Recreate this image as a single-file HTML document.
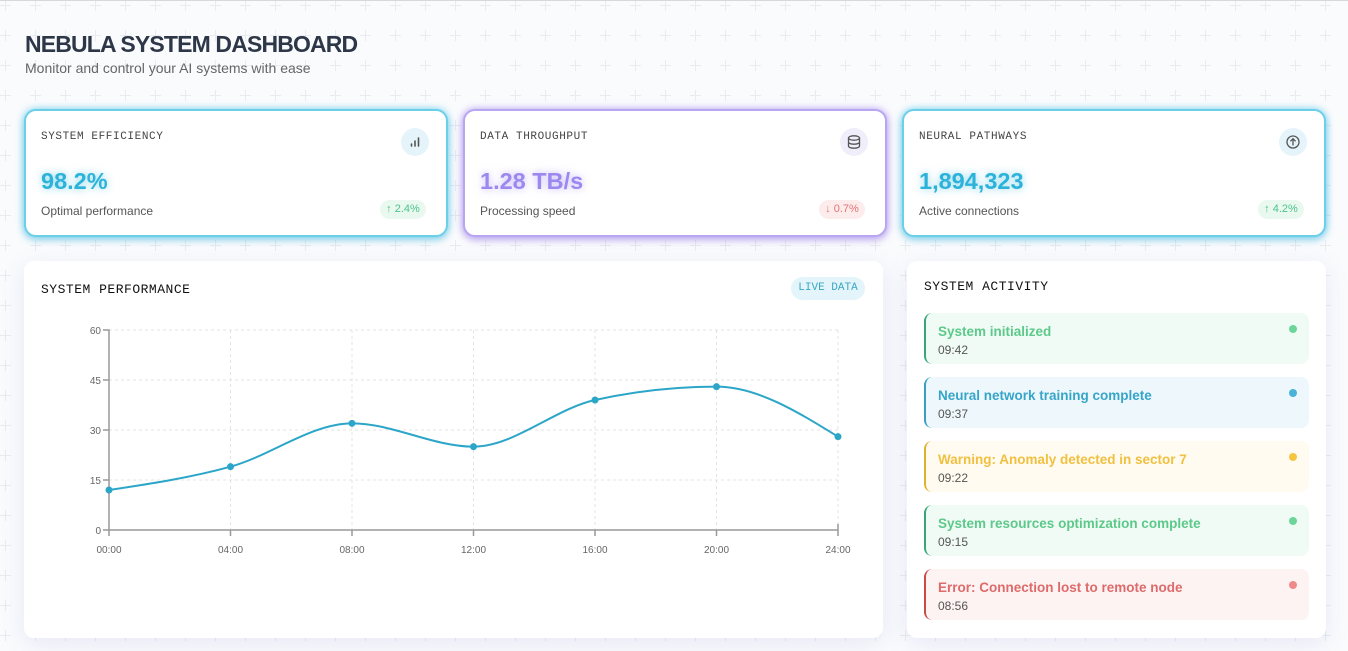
<!DOCTYPE html>
<html><head><meta charset="utf-8"><style>
*{margin:0;padding:0;box-sizing:border-box}
body{width:1348px;height:651px;overflow:hidden;background:#fafbfd;font-family:"Liberation Sans",sans-serif;position:relative}
.bg{position:absolute;left:0;top:0}
.topline{position:absolute;left:0;top:0;width:1348px;height:1px;background:#d8d8d8}
h1{position:absolute;left:25px;top:30px;font-size:23px;font-weight:bold;color:#2d3748;letter-spacing:-0.85px;line-height:28px;white-space:nowrap}
.sub{position:absolute;left:25px;top:60px;font-size:14px;color:#666;line-height:17px;white-space:nowrap}
.card{position:absolute;top:109px;width:424px;height:128px;background:#fff;border-radius:12px;border:2px solid #6ccfe8;box-shadow:0 0 8px rgba(80,200,235,.7),0 3px 8px rgba(60,170,210,.4)}
.card.p{border-color:#b9a6f2;box-shadow:0 0 8px rgba(160,130,240,.65),0 3px 8px rgba(140,110,220,.4)}
.lbl{position:absolute;left:15px;top:19px;font-family:"Liberation Mono",monospace;font-size:11px;letter-spacing:0.6px;color:#444;line-height:14px;white-space:nowrap}
.val{position:absolute;left:15px;top:56px;font-size:23.5px;font-weight:bold;color:#2bb3da;line-height:28px;text-shadow:0 0 8px rgba(43,179,218,.55);white-space:nowrap}
.p .val{color:#9d88f0;text-shadow:0 0 8px rgba(157,136,240,.6)}
.desc{position:absolute;left:15px;top:93px;font-size:12px;color:#555;line-height:15px;white-space:nowrap}
.badge{position:absolute;left:354px;top:89px;width:46px;height:19px;border-radius:10px;background:#e9f9ef;color:#4cc38a;font-size:11px;line-height:19px;text-align:center;white-space:nowrap}
.badge.r{background:#fdecec;color:#e57373}
.icon{position:absolute;left:375px;top:17px;width:28px;height:28px;border-radius:50%;background:#e4f4fa}
.p .icon{background:#efeefa}
.icon svg{position:absolute;left:0;top:0}
.panel{position:absolute;top:261px;height:377px;background:#fff;border-radius:10px;box-shadow:0 6px 24px rgba(110,110,190,.13)}
.ptitle{position:absolute;font-family:"Liberation Mono",monospace;font-size:13px;letter-spacing:0.5px;color:#111;line-height:16px;white-space:nowrap}
.live{position:absolute;left:767px;top:16px;width:74px;height:23px;border-radius:12px;background:#e3f5fa;color:#3aa8c4;font-family:"Liberation Mono",monospace;font-size:11px;line-height:23px;text-align:center}
.item{position:absolute;left:17px;width:385px;height:51px;border-radius:8px;border-left:2px solid #3aa57a;background:#f1fbf5}
.it{position:absolute;left:12px;top:11px;font-size:13.5px;font-weight:bold;line-height:16px;white-space:nowrap}
.tm{position:absolute;left:12px;top:30px;font-size:12px;color:#555;line-height:14px}
.dot{position:absolute;left:363px;top:12px;width:8px;height:8px;border-radius:50%}
</style></head><body>
<svg class="bg" width="1348" height="651">
<defs><pattern id="pl" x="0" y="0" width="30" height="30" patternUnits="userSpaceOnUse">
<path d="M0,5.5H11M5.5,0V11" stroke="#e9ebf0" stroke-width="1"/></pattern></defs>
<rect width="1348" height="651" fill="url(#pl)"/>
</svg>
<div class="topline"></div>
<h1>NEBULA SYSTEM DASHBOARD</h1>
<div class="sub">Monitor and control your AI systems with ease</div>

<div class="card" style="left:24px">
 <div class="lbl">SYSTEM EFFICIENCY</div>
 <div class="icon"><svg width="28" height="28"><path d="M10.5,18V16M14,18V13M17.5,18V10" stroke="#555" stroke-width="1.6" stroke-linecap="round"/></svg></div>
 <div class="val">98.2%</div>
 <div class="desc">Optimal performance</div>
 <div class="badge">↑ 2.4%</div>
</div>
<div class="card p" style="left:463px">
 <div class="lbl">DATA THROUGHPUT</div>
 <div class="icon"><svg width="28" height="28"><g fill="none" stroke="#555" stroke-width="1.3"><ellipse cx="14" cy="10" rx="5.5" ry="2.2"/><path d="M8.5,10V18C8.5,19.3 11,20.2 14,20.2C17,20.2 19.5,19.3 19.5,18V10M8.5,14C8.5,15.3 11,16.2 14,16.2C17,16.2 19.5,15.3 19.5,14"/></g></svg></div>
 <div class="val">1.28 TB/s</div>
 <div class="desc">Processing speed</div>
 <div class="badge r">↓ 0.7%</div>
</div>
<div class="card" style="left:902px">
 <div class="lbl">NEURAL PATHWAYS</div>
 <div class="icon"><svg width="28" height="28"><g fill="none" stroke="#555" stroke-width="1.3"><circle cx="14" cy="14" r="6"/><path d="M14,17.5V10.8M11.4,13.3L14,10.7L16.6,13.3"/></g></svg></div>
 <div class="val">1,894,323</div>
 <div class="desc">Active connections</div>
 <div class="badge">↑ 4.2%</div>
</div>

<div class="panel" style="left:24px;width:859px">
 <div class="ptitle" style="left:17px;top:21px">SYSTEM PERFORMANCE</div>
 <div class="live">LIVE DATA</div>
</div>
<div class="panel" style="left:907px;width:419px">
 <div class="ptitle" style="left:17px;top:18px">SYSTEM ACTIVITY</div>
 <div class="item" style="top:52px;border-left-color:#3aa57a;background:#f1fbf5"><div class="it" style="color:#5cc98a">System initialized</div><div class="tm">09:42</div><div class="dot" style="background:#6dd59a"></div></div>
 <div class="item" style="top:116px;border-left-color:#3a9ec4;background:#eef8fc"><div class="it" style="color:#36a5c8">Neural network training complete</div><div class="tm">09:37</div><div class="dot" style="background:#4bb3d8"></div></div>
 <div class="item" style="top:180px;border-left-color:#e0b030;background:#fffbf0"><div class="it" style="color:#f0c040">Warning: Anomaly detected in sector 7</div><div class="tm">09:22</div><div class="dot" style="background:#f5c542"></div></div>
 <div class="item" style="top:244px;border-left-color:#3aa57a;background:#f1fbf5"><div class="it" style="color:#5cc98a">System resources optimization complete</div><div class="tm">09:15</div><div class="dot" style="background:#6dd59a"></div></div>
 <div class="item" style="top:308px;border-left-color:#c94a4a;background:#fdf3f3"><div class="it" style="color:#de6b6b">Error: Connection lost to remote node</div><div class="tm">08:56</div><div class="dot" style="background:#ef8a8a"></div></div>
</div>

<svg style="position:absolute;left:0;top:0" width="1348" height="651">
<g stroke="#e3e3e3" stroke-width="1" stroke-dasharray="3,3" fill="none">
<path d="M109,330H838M109,380H838M109,430H838M109,480H838"/>
<path d="M230.5,330V530M352,330V530M473.5,330V530M595,330V530M716.5,330V530M838,330V530"/>
</g>
<g stroke="#999" stroke-width="1.5" fill="none">
<path d="M103,330H109V530H838"/>
<path d="M103,380H109M103,430H109M103,480H109M103,530H109"/>
<path d="M109,530V536M230.5,530V536M352,530V536M473.5,530V536M595,530V536M716.5,530V536M838,524V536"/>
</g>
<g font-family="Liberation Sans, sans-serif" font-size="10" fill="#666" text-anchor="end">
<text x="101" y="334">60</text><text x="101" y="384">45</text><text x="101" y="434">30</text><text x="101" y="484">15</text><text x="101" y="534">0</text>
</g>
<g font-family="Liberation Sans, sans-serif" font-size="10" fill="#666" text-anchor="middle">
<text x="109" y="553">00:00</text><text x="230.5" y="553">04:00</text><text x="352" y="553">08:00</text><text x="473.5" y="553">12:00</text><text x="595" y="553">16:00</text><text x="716.5" y="553">20:00</text><text x="838" y="553">24:00</text>
</g>
<path d="M109,490 C149.5,483.89 190,477.78 230.5,466.67 C271,455.56 311.5,423.33 352,423.33 C392.5,423.33 433,446.67 473.5,446.67 C514,446.67 554.5,408.89 595,400 C635.5,391.11 676,386.67 716.5,386.67 C757,386.67 797.5,411.67 838,436.67" fill="none" stroke="#2ba5c8" stroke-width="2"/>
<g fill="#2ba5c8">
<circle cx="109" cy="490" r="3.5"/><circle cx="230.5" cy="466.67" r="3.5"/><circle cx="352" cy="423.33" r="3.5"/><circle cx="473.5" cy="446.67" r="3.5"/><circle cx="595" cy="400" r="3.5"/><circle cx="716.5" cy="386.67" r="3.5"/><circle cx="838" cy="436.67" r="3.5"/>
</g>
</svg>
</body></html>
